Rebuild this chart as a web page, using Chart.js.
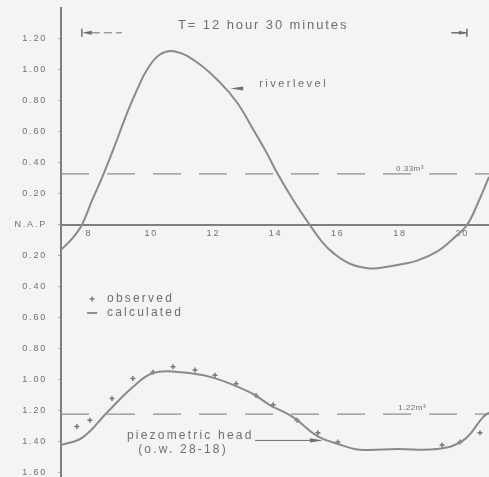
<!DOCTYPE html>
<html>
<head>
<meta charset="utf-8">
<script src="https://cdn.jsdelivr.net/npm/chart.js@4"></script>
<style>
  html, body { margin: 0; padding: 0; background: #f4f4f2; }
  #wrap { width: 489px; height: 477px; }
</style>
</head>
<body>
<div id="wrap"><canvas id="chart" width="489" height="477"></canvas></div>
<script>
// levels in m relative to N.A.P (negative = below), time in hours
const riverHours = [7.10, 7.45, 7.77, 8.10, 8.45, 8.90, 9.22, 9.54, 9.86, 10.28, 10.77, 11.47, 12.21, 12.76, 13.27, 13.70, 14.05, 14.60, 15.10, 15.50, 15.85, 16.39, 17.03, 17.60, 18.00, 18.55, 19.20, 19.70, 20.15, 20.50, 20.86];
const riverLevel = [-0.16, -0.09, 0.00, 0.16, 0.32, 0.55, 0.72, 0.87, 1.00, 1.10, 1.12, 1.05, 0.92, 0.79, 0.62, 0.47, 0.335, 0.15, 0.00, -0.11, -0.18, -0.25, -0.28, -0.27, -0.255, -0.23, -0.17, -0.09, 0.00, 0.14, 0.31];

const headHours = [7.10, 7.80, 8.58, 9.41, 10.06, 10.83, 11.90, 13.18, 13.80, 14.56, 15.33, 15.97, 16.70, 17.90, 19.19, 20.03, 20.67, 20.86];
const headCalc = [-1.42, -1.37, -1.21, -1.045, -0.955, -0.948, -0.98, -1.08, -1.16, -1.24, -1.36, -1.41, -1.45, -1.445, -1.445, -1.39, -1.24, -1.21];

const obsHours = [7.61, 8.03, 8.74, 9.41, 10.06, 10.70, 11.41, 12.05, 12.73, 13.37, 13.92, 14.69, 15.36, 16.00, 19.35, 19.93, 20.57];
const obsHead = [-1.30, -1.26, -1.12, -0.99, -0.95, -0.915, -0.935, -0.97, -1.025, -1.10, -1.16, -1.26, -1.34, -1.40, -1.42, -1.40, -1.34];

const hourTicks = [8, 10, 12, 14, 16, 18, 20];
const levelTicks = [1.2, 1.0, 0.8, 0.6, 0.4, 0.2, 0, -0.2, -0.4, -0.6, -0.8, -1.0, -1.2, -1.4, -1.6];

const meanRiver = 0.33;
const meanHead = -1.22;
const periodStart = 7.77;
const periodEnd = 20.15;

const ink = '#6f6f6f';
const lineGrey = '#8a8a8a';
const font = '"Liberation Sans", Arial, sans-serif';

function pts(xs, ys) {
    return xs.map((x, i) => ({x: x, y: ys[i]}));
}

function arrowHead(ctx, x, y, dir, len, half) {
    ctx.beginPath();
    ctx.moveTo(x, y);
    ctx.lineTo(x - dir * len, y - half);
    ctx.lineTo(x - dir * len, y + half);
    ctx.closePath();
    ctx.fill();
}

const paper = {
    id: 'paper',
    beforeDraw(chart) {
        const ctx = chart.ctx;
        ctx.fillStyle = '#f4f4f2';
        ctx.fillRect(0, 0, chart.width, chart.height);
        ctx.letterSpacing = '1.8px';
    },
    afterDatasetsDraw(chart) {
        const ctx = chart.ctx;
        const px = v => chart.scales.x.getPixelForValue(v);
        const py = v => chart.scales.y.getPixelForValue(v);
        ctx.save();
        ctx.fillStyle = ink;
        ctx.strokeStyle = ink;
        ctx.textBaseline = 'middle';

        // title
        ctx.font = '13px ' + font;
        ctx.letterSpacing = '1.9px';
        ctx.textAlign = 'center';
        ctx.fillText('T= 12 hour 30 minutes', px(13.6), py(1.29));

        // period markers
        const ty = py(1.24);
        ctx.lineWidth = 1.5;
        ctx.beginPath();
        ctx.moveTo(px(periodStart), ty - 4);
        ctx.lineTo(px(periodStart), ty + 4);
        ctx.moveTo(px(periodEnd), ty - 4);
        ctx.lineTo(px(periodEnd), ty + 4);
        ctx.stroke();
        arrowHead(ctx, px(periodStart), ty, -1, 10, 2);
        ctx.lineWidth = 1;
        ctx.setLineDash([8, 4]);
        ctx.beginPath();
        ctx.moveTo(px(periodStart) + 10, ty);
        ctx.lineTo(px(9.06), ty);
        ctx.stroke();
        ctx.setLineDash([]);
        ctx.lineWidth = 1.5;
        ctx.beginPath();
        ctx.moveTo(px(19.65), ty);
        ctx.lineTo(px(periodEnd), ty);
        ctx.stroke();
        arrowHead(ctx, px(periodEnd), ty, 1, 8, 2);

        // riverlevel label
        ctx.font = '11px ' + font;
        ctx.letterSpacing = '2.5px';
        ctx.textAlign = 'left';
        ctx.fillText('riverlevel', px(13.47), py(0.91));
        arrowHead(ctx, px(12.54), py(0.88), -1, 13, 2);

        // mean levels
        ctx.font = '8px ' + font;
        ctx.letterSpacing = '0.5px';
        ctx.textAlign = 'center';
        ctx.fillText('0.33m³', px(18.32), py(0.36));
        ctx.fillText('1.22m³', px(18.39), py(-1.18));

        // legend
        const lx = px(8.1);
        ctx.lineWidth = 1.3;
        ctx.beginPath();
        ctx.moveTo(lx - 2.5, py(-0.477));
        ctx.lineTo(lx + 2.5, py(-0.477));
        ctx.moveTo(lx, py(-0.477) - 2.5);
        ctx.lineTo(lx, py(-0.477) + 2.5);
        ctx.moveTo(lx - 5, py(-0.568));
        ctx.lineTo(lx + 5, py(-0.568));
        ctx.stroke();
        ctx.font = '12px ' + font;
        ctx.letterSpacing = '2.2px';
        ctx.textAlign = 'left';
        ctx.fillText('observed', px(8.58), py(-0.477));
        ctx.fillText('calculated', px(8.58), py(-0.568));

        // piezometric head label
        ctx.fillText('piezometric head', px(9.22), py(-1.36));
        ctx.fillText('(o.w. 28-18)', px(9.58), py(-1.45));
        ctx.lineWidth = 1;
        ctx.beginPath();
        ctx.moveTo(px(13.34), py(-1.39));
        ctx.lineTo(px(15.1), py(-1.39));
        ctx.stroke();
        arrowHead(ctx, px(15.52), py(-1.39), 1, 13, 2.2);

        ctx.restore();
    }
};

new Chart(document.getElementById('chart'), {
    type: 'line',
    data: {
        datasets: [
            {
                label: 'riverlevel',
                data: pts(riverHours, riverLevel),
                borderColor: lineGrey,
                borderWidth: 2,
                pointRadius: 0,
                tension: 0.4
            },
            {
                label: 'calculated',
                data: pts(headHours, headCalc),
                borderColor: lineGrey,
                borderWidth: 2,
                pointRadius: 0,
                tension: 0.4
            },
            {
                label: 'observed',
                data: pts(obsHours, obsHead),
                showLine: false,
                pointStyle: 'cross',
                pointRadius: 2.5,
                pointBorderWidth: 1.5,
                pointBorderColor: '#777'
            },
            {
                label: 'mean riverlevel',
                data: pts([7.1, 20.86], [meanRiver, meanRiver]),
                borderColor: '#8f8f8f',
                borderWidth: 1.3,
                borderDash: [28, 18],
                pointRadius: 0
            },
            {
                label: 'mean head',
                data: pts([7.1, 20.86], [meanHead, meanHead]),
                borderColor: '#8f8f8f',
                borderWidth: 1.3,
                borderDash: [28, 18],
                pointRadius: 0
            }
        ]
    },
    options: {
        responsive: false,
        animation: false,
        layout: { autoPadding: false, padding: { top: 8, left: 0, right: 0, bottom: 0 } },
        plugins: { legend: { display: false }, tooltip: { enabled: false } },
        scales: {
            x: {
                type: 'linear',
                min: 7.1,
                max: 20.86,
                position: { y: 0 },
                afterBuildTicks: s => { s.ticks = hourTicks.map(v => ({value: v})); },
                afterFit: s => { s.height = 0; s.paddingLeft = 0; s.paddingRight = 0; },
                grid: { display: false, drawTicks: false },
                border: { display: true, color: '#7f7f7f', width: 2 },
                ticks: {
                    color: ink,
                    padding: 3,
                    font: { size: 9, family: font }
                }
            },
            y: {
                type: 'linear',
                min: -1.626,
                max: 1.40,
                afterBuildTicks: s => { s.ticks = levelTicks.map(v => ({value: v})); },
                afterFit: s => { s.width = 61; s.paddingTop = 0; s.paddingBottom = 0; },
                grid: { display: true, drawOnChartArea: false, tickLength: 3, color: '#b0b0b0' },
                border: { display: true, color: '#7f7f7f', width: 2 },
                ticks: {
                    color: ink,
                    padding: 11,
                    font: { size: 9, family: font },
                    callback: v => v === 0 ? 'N.A.P' : Math.abs(v).toFixed(2)
                }
            }
        }
    },
    plugins: [paper]
});
</script>
</body>
</html>
